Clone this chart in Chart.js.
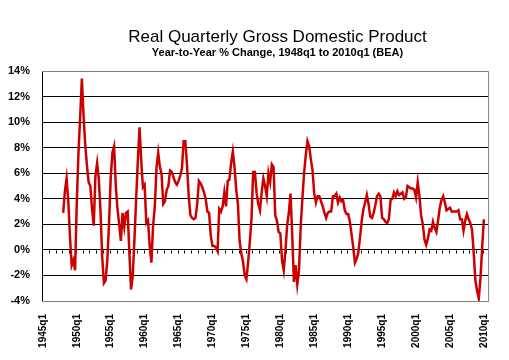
<!DOCTYPE html>
<html>
<head>
<meta charset="utf-8">
<script src="https://cdn.jsdelivr.net/npm/chart.js@4/dist/chart.umd.min.js"></script>
<style>
html,body{margin:0;padding:0;background:#fff;}
#wrap{width:509px;height:360px;}
</style>
</head>
<body>
<div id="wrap"><canvas id="c" width="509" height="360"></canvas></div>
<script>
// ---------- texts ----------
const titleText = 'Real Quarterly Gross Domestic Product';
const subtitleText = 'Year-to-Year % Change, 1948q1 to 2010q1 (BEA)';

// ---------- categories / ticks ----------
const firstYear = 1945;
const lastYear = 2010;
const lastQuarterShown = 3;           // axis runs to 2010q3
const tickLabels = ['1945q1','1950q1','1955q1','1960q1','1965q1','1970q1','1975q1',
                    '1980q1','1985q1','1990q1','1995q1','2000q1','2005q1','2010q1'];
const yTicks = [-4, -2, 0, 2, 4, 6, 8, 10, 12, 14];
const seriesStart = '1948q1';

// ---------- year-to-year % change, real GDP ----------
const g1940s = [ 2.9, 4.6, 5.6, 3.8,   1.0, -1.2, -0.8, -1.6];                       // 1948-1949
const g1950s = [ 3.7, 7.6, 10.4, 13.4,  10.5, 8.2, 6.6, 5.3,  5.0, 3.2, 1.9, 5.8,
                 6.8, 5.5, 3.0, -0.6,  -2.6, -2.4, -0.8, 2.0,  5.6, 7.6, 8.1, 5.0,
                 3.2, 2.0, 0.7, 2.9,   1.8, 2.9, 3.0, -0.2,  -3.1, -2.0, 0.8, 4.0,
                 7.0, 9.6, 7.0, 4.9];
const g1960s = [ 5.1, 2.1, 2.3, 0.3,  -1.0, 1.9, 3.4, 6.4,   7.6, 6.5, 5.9, 3.6,
                 3.8, 4.7, 5.0, 6.2,   6.1, 5.7, 5.3, 5.1,   5.4, 5.8, 6.4, 8.5,
                 8.5, 6.6, 4.2, 2.7,   2.5, 2.4, 2.5, 3.6,   5.4, 5.2, 4.9, 4.5,
                 4.0, 3.0, 2.9, 1.1];
const g1970s = [ 0.3, 0.3, 0.2, -0.1,  3.2, 3.0, 3.4, 4.5,  3.4, 5.4, 5.5, 6.8,
                 7.7, 6.5, 4.7, 3.6,   0.7, -0.3, -0.9, -2.0, -2.3, -1.0, 0.6, 2.4,
                 6.1, 6.1, 4.5, 3.6,   3.1, 4.5, 5.6, 5.0,   4.2, 6.0, 5.3, 6.7,
                 6.5, 2.7, 2.3, 1.4];
const g1980s = [ 1.3, -0.8, -1.6, -0.1,  1.9, 2.9, 4.4, 1.2,  -2.5, -1.2, -2.7, -1.6,
                 1.8, 4.0, 6.0, 7.4,   8.5, 8.1, 7.1, 6.2,   4.4, 3.7, 4.2, 4.2,
                 3.8, 3.4, 2.9, 2.5,   2.9, 3.0, 3.0, 4.2,   4.2, 4.4, 3.7, 4.1,
                 3.8, 3.9, 3.1, 2.8];
const g1990s = [ 2.8, 2.2, 1.2, 0.2,  -1.0, -0.7, -0.2, 1.0,  2.3, 3.2, 3.7, 4.3,
                 3.6, 2.6, 2.5, 2.9,   3.5, 4.2, 4.4, 4.2,   2.5, 2.4, 2.2, 2.1,
                 2.4, 3.9, 4.0, 4.5,   4.2, 4.6, 4.3, 4.4,   4.5, 4.0, 4.1, 5.0,
                 4.9, 4.8, 4.8, 4.7];
const g2000s = [ 4.1, 5.3, 4.2, 2.7,   2.0, 0.8, 0.4, 0.9,   1.6, 1.5, 2.2, 1.7,
                 1.4, 2.3, 3.3, 3.9,   4.2, 3.7, 3.1, 3.2,   3.3, 3.0, 3.0, 3.0,
                 3.0, 3.1, 2.4, 2.4,   1.5, 2.3, 2.8, 2.4,   2.1, 1.6, -0.2, -2.4,
                -3.2, -3.8, -2.2, 0.2];
const g2010s = [ 2.4];                                                               // 2010q1

// ---------- assemble ----------
const quarters = [];
for (let yr = firstYear; yr <= lastYear; yr++) {
  for (let q = 1; q <= 4; q++) {
    if (yr === lastYear && q > lastQuarterShown) break;
    quarters.push(yr + 'q' + q);
  }
}
const gdpValues = [].concat(g1940s, g1950s, g1960s, g1970s, g1980s, g1990s, g2000s, g2010s);
const startIdx = quarters.indexOf(seriesStart);
const seriesData = quarters.map((q, i) => {
  const k = i - startIdx;
  return (k >= 0 && k < gdpValues.length) ? gdpValues[k] : null;
});

const FONT = '"Liberation Sans", Arial, Helvetica, sans-serif';

const decor = {
  id: 'decor',
  beforeDatasetsDraw(chart) {
    const {ctx, chartArea: a, scales: {x, y}} = chart;
    ctx.save();
    // gray frame (top, right, bottom)
    ctx.strokeStyle = '#808080';
    ctx.lineWidth = 1;
    ctx.beginPath();
    ctx.moveTo(a.left, a.top + 0.5); ctx.lineTo(a.right + 0.5, a.top + 0.5);
    ctx.lineTo(a.right + 0.5, a.bottom + 0.5); ctx.lineTo(a.left, a.bottom + 0.5);
    ctx.stroke();
    // small tick marks on the zero line, one per year
    const y0 = Math.round(y.getPixelForValue(0)) + 0.5;
    const half = (x.getPixelForValue(1) - x.getPixelForValue(0)) / 2;
    ctx.strokeStyle = '#000';
    ctx.beginPath();
    for (let i = 0; i < quarters.length; i += 4) {
      const px = Math.round(x.getPixelForValue(i) - half) + 0.5;
      ctx.moveTo(px, y0); ctx.lineTo(px, y0 + 3);
    }
    ctx.stroke();
    ctx.restore();
  },
  afterDraw(chart) {
    const ctx = chart.ctx;
    ctx.save();
    ctx.fillStyle = '#000';
    ctx.textAlign = 'center';
    ctx.textBaseline = 'alphabetic';
    ctx.font = '17px ' + FONT;
    ctx.fillText(titleText, 277.5, 41.5);
    ctx.font = 'bold 11px ' + FONT;
    ctx.fillText(subtitleText, 277.5, 56);
    ctx.restore();
  }
};

new Chart(document.getElementById('c'), {
  type: 'line',
  data: {
    labels: quarters,
    datasets: [{
      data: seriesData,
      borderColor: '#CC0000',
      borderWidth: 2.5,
      pointRadius: 0,
      tension: 0,
      fill: false
    }]
  },
  options: {
    responsive: false,
    animation: false,
    devicePixelRatio: 1,
    layout: {padding: {top: 71, right: 13, bottom: 0, left: 0}},
    plugins: {legend: {display: false}, tooltip: {enabled: false}, title: {display: false}},
    scales: {
      x: {
        type: 'category',
        offset: true,
        grid: {display: false, drawTicks: false},
        border: {display: false},
        afterFit: s => { s.height = 59; },
        ticks: {
          autoSkip: false,
          minRotation: 90,
          maxRotation: 90,
          padding: 13,
          color: '#000',
          font: {family: FONT, size: 10, weight: 'bold'},
          callback: function (v) {
            const l = this.getLabelForValue(v);
            return tickLabels.includes(l) ? l : null;
          }
        }
      },
      y: {
        min: -4,
        max: 14,
        afterFit: s => { s.width = 42; },
        afterBuildTicks: s => { s.ticks = yTicks.map(v => ({value: v})); },
        grid: {
          drawTicks: false,
          lineWidth: 1,
          color: c => (c.tick && (c.tick.value === 14 || c.tick.value === -4)) ? '#808080' : '#000'
        },
        border: {display: true, color: '#000', width: 1},
        ticks: {
          padding: 12,
          color: '#000',
          font: {family: FONT, size: 11, weight: 'bold'},
          callback: v => v + '%'
        }
      }
    }
  },
  plugins: [decor]
});
</script>
</body>
</html>
